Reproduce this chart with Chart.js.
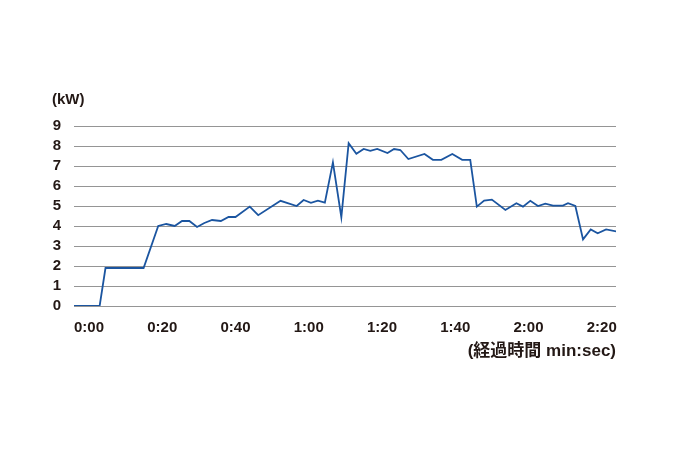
<!DOCTYPE html>
<html>
<head>
<meta charset="utf-8">
<script src="https://cdn.jsdelivr.net/npm/chart.js@4"></script>
<style>
  html, body { margin: 0; padding: 0; background: #fff; }
  #wrap { width: 677px; height: 452px; }
</style>
</head>
<body>
<div id="wrap"><canvas id="powerChart"></canvas></div>
<script>
// elapsed time (seconds) and power (kW)
const timeSec = [0, 7.0, 8.6, 19.0, 23.0, 25.2, 27.5, 29.5, 31.5, 33.6, 35.6, 37.7, 40.1, 42.2, 44.1,
  48.0, 50.3, 56.4, 60.8, 62.7, 64.7, 66.6, 68.5, 70.7, 73.0, 75.0, 77.1, 79.1, 80.9, 82.8,
  85.6, 87.4, 89.1, 91.3, 95.7, 98.0, 100.3, 103.3, 106.0, 108.2, 110.0, 112.0, 114.1, 117.8,
  120.8, 122.6, 124.6, 126.7, 128.7, 130.8, 133.5, 134.9, 136.9, 139.0, 141.1, 143.0, 145.3, 148.1];
const powerKw = [0, 0, 1.9, 1.9, 4.0, 4.1, 4.0, 4.25, 4.25, 3.95, 4.15, 4.3, 4.25, 4.45, 4.45,
  4.97, 4.54, 5.26, 5.0, 5.3, 5.16, 5.27, 5.17, 7.18, 4.44, 8.14, 7.61, 7.85, 7.76, 7.85,
  7.65, 7.85, 7.8, 7.35, 7.6, 7.31, 7.31, 7.6, 7.31, 7.31, 4.97, 5.27, 5.32, 4.8,
  5.14, 4.97, 5.26, 5.0, 5.12, 5.02, 5.02, 5.14, 5.0, 3.33, 3.83, 3.64, 3.83, 3.73];

const yTicks = [0, 1, 2, 3, 4, 5, 6, 7, 8, 9];
const xTickSec = [0, 20, 40, 60, 80, 100, 120, 140];

const TEXT = '#231815';
const FONT = "'Liberation Sans', 'Noto Sans CJK JP', sans-serif";

function fmtTime(s) {
  const m = Math.floor(s / 60);
  const sec = s % 60;
  return m + ':' + String(sec).padStart(2, '0');
}

const points = timeSec.map((t, i) => ({ x: t, y: powerKw[i] }));

new Chart(document.getElementById('powerChart'), {
  type: 'line',
  data: {
    datasets: [{
      data: points,
      borderColor: '#1b55a0',
      borderWidth: 1.8,
      pointRadius: 0,
      tension: 0,
      fill: false
    }]
  },
  options: {
    responsive: true,
    maintainAspectRatio: false,
    animation: false,
    layout: { padding: { left: 52, right: 61, top: 91, bottom: 90 } },
    plugins: {
      legend: { display: false },
      tooltip: { enabled: false },
      title: {
        display: true,
        text: '(kW)',
        align: 'start',
        color: TEXT,
        font: { family: FONT, size: 15, weight: 'bold' },
        padding: { top: 0, bottom: 17 }
      }
    },
    scales: {
      x: {
        type: 'linear',
        min: 0,
        max: 148,
        afterBuildTicks: (scale) => { scale.ticks = xTickSec.map(v => ({ value: v })); },
        afterFit: (scale) => { scale.height = 56; },
        grid: { display: false },
        border: { display: false },
        ticks: {
          align: 'start',
          autoSkip: false,
          padding: 5,
          maxRotation: 0,
          color: TEXT,
          font: { family: FONT, size: 15, weight: 'bold' },
          callback: (v) => fmtTime(v)
        },
        title: {
          display: true,
          text: '(経過時間 min:sec)',
          align: 'end',
          color: TEXT,
          font: { family: FONT, size: 17, weight: 'bold' },
          padding: { top: 0, bottom: 0 }
        }
      },
      y: {
        min: 0,
        max: 9,
        afterBuildTicks: (scale) => { scale.ticks = yTicks.map(v => ({ value: v })); },
        afterFit: (scale) => { scale.width = 22; },
        grid: { color: '#959595', lineWidth: 1, drawTicks: false },
        border: { display: false },
        ticks: {
          autoSkip: false,
          padding: 13,
          color: TEXT,
          font: { family: FONT, size: 15, weight: 'bold' }
        }
      }
    }
  }
});
</script>
</body>
</html>
